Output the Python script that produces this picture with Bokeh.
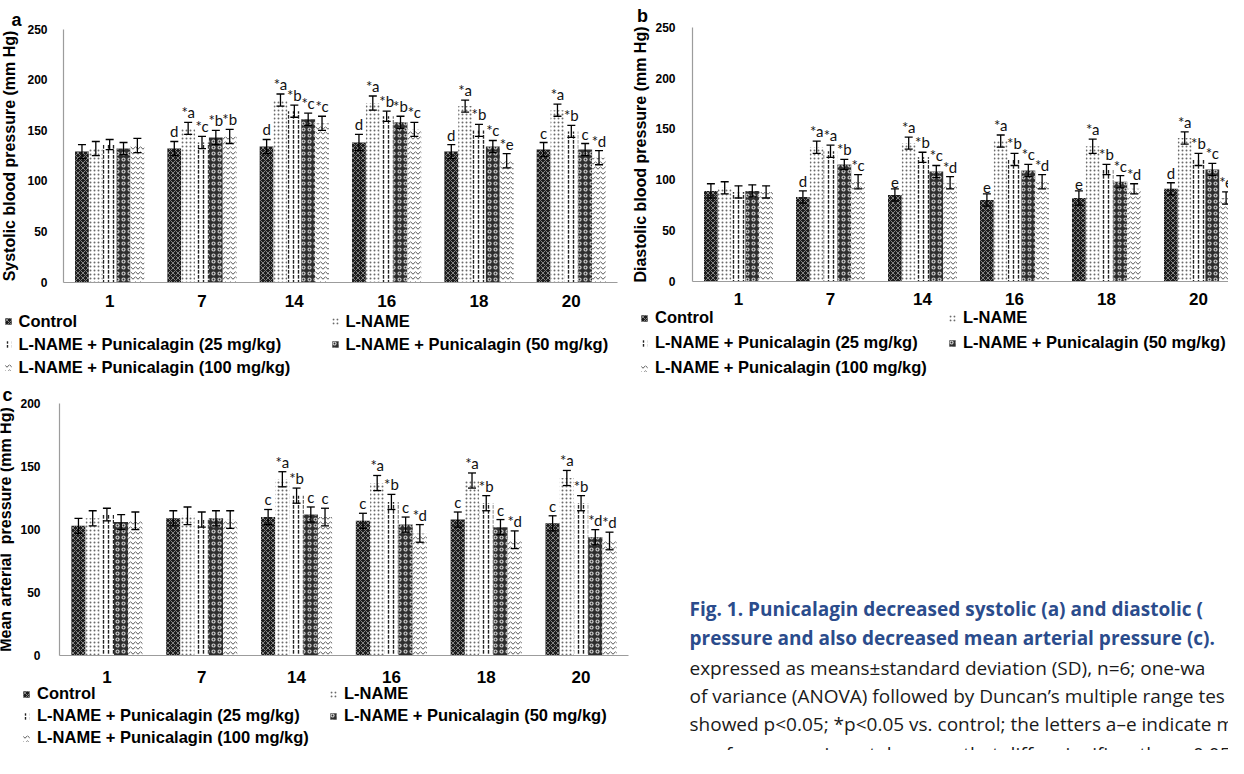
import numpy as np
from bokeh.plotting import figure
from bokeh.models import (ColumnDataSource, Range1d, FixedTicker, Whisker, TeeHead,
                          Legend, LegendItem, LinearAxis)
from bokeh.embed import file_html
from bokeh.resources import INLINE
from bokeh.core.properties import value

# ---------------- data ----------------
days = ["1", "7", "14", "16", "18", "20"]
series = ["Control", "L-NAME", "L-NAME + Punicalagin (25 mg/kg)",
          "L-NAME + Punicalagin (50 mg/kg)", "L-NAME + Punicalagin (100 mg/kg)"]

# (a) systolic blood pressure (mm Hg)
sbp_control = [129, 132, 134, 138, 129, 131]
sbp_lname = [132, 152, 180, 177, 174, 170]
sbp_p25 = [136, 138, 169, 164, 150, 149]
sbp_p50 = [132, 143, 161, 158, 134, 131]
sbp_p100 = [135, 144, 157, 151, 120, 123]
sbp_sd_control = [7, 7, 7, 8, 7, 7]
sbp_sd_lname = [7, 6, 6, 7, 6, 6]
sbp_sd_p25 = [5, 6, 6, 5, 6, 6]
sbp_sd_p50 = [6, 7, 6, 6, 6, 6]
sbp_sd_p100 = [7, 7, 7, 7, 7, 7]
sbp_lab_control = ["", "d", "d", "d", "d", "c"]
sbp_lab_lname = ["", "*a", "*a", "*a", "*a", "*a"]
sbp_lab_p25 = ["", "*c", "*b", "*b", "*b", "*b"]
sbp_lab_p50 = ["", "*b", "*c", "*b", "*c", "c"]
sbp_lab_p100 = ["", "*b", "*c", "*c", "*e", "*d"]

# (b) diastolic blood pressure (mm Hg)
dbp_control = [89, 83, 85, 80, 82, 91]
dbp_lname = [92, 132, 136, 138, 133, 141]
dbp_p25 = [88, 128, 122, 120, 110, 120]
dbp_p50 = [89, 115, 108, 109, 98, 110]
dbp_p100 = [88, 98, 97, 98, 91, 82]
dbp_sd_control = [7, 6, 6, 6, 7, 6]
dbp_sd_lname = [6, 6, 6, 6, 7, 6]
dbp_sd_p25 = [6, 6, 5, 6, 5, 6]
dbp_sd_p50 = [6, 5, 6, 6, 6, 6]
dbp_sd_p100 = [6, 7, 6, 7, 5, 6]
dbp_lab_control = ["", "d", "e", "e", "e", "d"]
dbp_lab_lname = ["", "*a", "*a", "*a", "*a", "*a"]
dbp_lab_p25 = ["", "*a", "*b", "*b", "*b", "*b"]
dbp_lab_p50 = ["", "*b", "*c", "*c", "*c", "*c"]
dbp_lab_p100 = ["", "*c", "*d", "*d", "*d", "*e"]

# (c) mean arterial pressure (mm Hg)
map_control = [103, 109, 110, 107, 108, 105]
map_lname = [109, 111, 140, 137, 139, 141]
map_p25 = [112, 108, 127, 122, 121, 121]
map_p50 = [106, 109, 112, 104, 102, 94]
map_p100 = [107, 108, 110, 97, 92, 91]
map_sd_control = [6, 6, 6, 6, 6, 6]
map_sd_lname = [6, 7, 6, 6, 6, 6]
map_sd_p25 = [5, 6, 6, 6, 6, 6]
map_sd_p50 = [6, 6, 6, 6, 6, 6]
map_sd_p100 = [7, 7, 7, 7, 7, 7]
map_lab_control = ["", "", "c", "c", "c", "c"]
map_lab_lname = ["", "", "*a", "*a", "*a", "*a"]
map_lab_p25 = ["", "", "*b", "*b", "*b", "*b"]
map_lab_p50 = ["", "", "c", "c", "c", "*d"]
map_lab_p100 = ["", "", "c", "*d", "*d", "*d"]

caption_blue = ["Fig. 1. Punicalagin decreased systolic (a) and diastolic (",
                "pressure and also decreased mean arterial pressure (c)."]
caption_black = ["expressed as means\u00b1standard deviation (SD), n=6; one-wa",
                 "of variance (ANOVA) followed by Duncan\u2019s multiple range tes",
                 "showed p<0.05; *p<0.05 vs. control; the letters a\u2013e indicate m",
                 "ues from experimental groups that differ significantly, p<0.05"]

# ---------------- styles / layout constants ----------------
W, H = 1228, 750          # canvas, placed at page (8, 8)
OFFSETS = [-0.3, -0.15, 0.0, 0.15, 0.3]
BAR_W = 0.15
STYLES = [
    dict(fill_color="#1c1c1c", hatch_pattern="x", hatch_color="#9a9a9a", hatch_scale=5, hatch_weight=0.8),
    dict(fill_color="white", hatch_pattern=".", hatch_color="#6a6a6a", hatch_scale=4, hatch_weight=1.0),
    dict(fill_color="white", hatch_pattern=":", hatch_color="#222222", hatch_scale=5, hatch_weight=1.4),
    dict(fill_color="#2e2e2e", hatch_pattern="o", hatch_color="#cfcfcf", hatch_scale=6, hatch_weight=1.2),
    dict(fill_color="white", hatch_pattern="v", hatch_color="#555555", hatch_scale=5, hatch_weight=1.0),
]
FONT = "Liberation Sans"

p = figure(width=W, height=H, x_range=Range1d(0, W), y_range=Range1d(0, H),
           output_backend="svg", toolbar_location=None, x_axis_type=None, y_axis_type=None,
           min_border_left=0, min_border_right=0, min_border_top=0, min_border_bottom=0,
           title=None)
p.outline_line_color = None


def x_scale_range(px0, ppu):
    # canvas spans page x 8..1236; group axis value 0.5 sits at page x px0
    return Range1d(0.5 + (8 - px0) / ppu, 0.5 + (8 + W - px0) / ppu)


def y_scale_range(py0, ppu):
    # canvas spans page y 8..758; value 0 sits at page y py0
    return Range1d((py0 - (8 + H)) / ppu, (py0 - 8) / ppu)


def panel(name, vals, sds, labs, ymax, ytitle, title_size, px0, xppu, py0, yppu,
          tick_so, title_so, x_so, leg_loc, leg_lw, leg_sp):
    xr, yr = "x" + name, "y" + name
    p.extra_x_ranges[xr] = x_scale_range(px0, xppu)
    p.extra_y_ranges[yr] = y_scale_range(py0, yppu)
    rends = []
    for k in range(5):
        xs = [i + 1 + OFFSETS[k] for i in range(len(days))]
        src = ColumnDataSource(dict(
            x=xs, top=vals[k],
            upper=[v + s for v, s in zip(vals[k], sds[k])],
            lower=[v - s for v, s in zip(vals[k], sds[k])],
            lab=labs[k]))
        r = p.vbar(x="x", top="top", width=BAR_W, source=src, line_color=None,
                   x_range_name=xr, y_range_name=yr, **STYLES[k])
        rends.append(r)
        p.add_layout(Whisker(source=src, base="x", upper="upper", lower="lower",
                             x_range_name=xr, y_range_name=yr,
                             line_color="black", line_width=1.3, level="overlay",
                             upper_head=TeeHead(size=8, line_width=1.3, line_color="black"),
                             lower_head=TeeHead(size=8, line_width=1.3, line_color="black")))
        p.text(x="x", y="upper", text="lab", source=src, x_range_name=xr, y_range_name=yr,
               text_align="center", text_baseline="bottom", y_offset=-1,
               text_font=value("Lato"), text_font_size="15px", text_color="#111111")

    yax = LinearAxis(x_range_name=xr, y_range_name=yr, fixed_location=0.5, bounds=(0, ymax),
                     ticker=FixedTicker(ticks=list(range(0, ymax + 1, 50))),
                     axis_label=ytitle)
    xax = LinearAxis(x_range_name=xr, y_range_name=yr, fixed_location=0, bounds=(0.5, 6.5),
                     ticker=FixedTicker(ticks=[i + 1 for i in range(len(days))]),
                     major_label_overrides={i + 1: d for i, d in enumerate(days)})
    for ax in (xax, yax):
        ax.axis_line_color = "#9c9c9c"
        ax.axis_line_width = 1.2
        ax.major_tick_line_color = None
        ax.minor_tick_line_color = None
        ax.major_label_text_font = FONT
        ax.major_label_text_font_style = "bold"
        ax.major_label_text_color = "black"
    yax.major_label_text_font_size = "12px"
    xax.major_label_text_font_size = "17px"
    yax.major_label_standoff = tick_so
    xax.major_label_standoff = x_so
    yax.axis_label_standoff = title_so
    yax.axis_label_text_font = FONT
    yax.axis_label_text_font_style = "bold"
    yax.axis_label_text_font_size = title_size
    yax.axis_label_text_color = "black"
    p.add_layout(yax, "left")
    p.add_layout(xax, "below")

    items = [LegendItem(label=s, renderers=[r]) for s, r in zip(series, rends)]
    p.add_layout(Legend(items=items, location=leg_loc, orientation="horizontal", ncols=2,
                        glyph_width=8, glyph_height=8, label_standoff=7,
                        label_width=leg_lw, label_height=19, spacing=leg_sp,
                        padding=0, margin=0, border_line_color=None, background_fill_alpha=0,
                        label_text_font=FONT, label_text_font_style="bold",
                        label_text_font_size="16.5px", label_text_color="black"))


panel("a", [sbp_control, sbp_lname, sbp_p25, sbp_p50, sbp_p100],
      [sbp_sd_control, sbp_sd_lname, sbp_sd_p25, sbp_sd_p50, sbp_sd_p100],
      [sbp_lab_control, sbp_lab_lname, sbp_lab_p25, sbp_lab_p50, sbp_lab_p100],
      250, "Systolic blood pressure (mm Hg)", "16px",
      71, 92.33, 289.5, 1.0108, 10, 6, 7, (3.5, 373.3), 308, 4)

panel("b", [dbp_control, dbp_lname, dbp_p25, dbp_p50, dbp_p100],
      [dbp_sd_control, dbp_sd_lname, dbp_sd_p25, dbp_sd_p50, dbp_sd_p100],
      [dbp_lab_control, dbp_lab_lname, dbp_lab_p25, dbp_lab_p50, dbp_lab_p100],
      250, "Diastolic blood pressure (mm Hg)", "16px",
      700, 92.0, 288.8, 1.016, 11, 3, 6, (640, 373), 287, 6)

panel("c", [map_control, map_lname, map_p25, map_p50, map_p100],
      [map_sd_control, map_sd_lname, map_sd_p25, map_sd_p50, map_sd_p100],
      [map_lab_control, map_lab_lname, map_lab_p25, map_lab_p50, map_lab_p100],
      200, "Mean arterial\u00a0 pressure (mm Hg)", "16px",
      67, 94.83, 663.1, 1.2595, 13, 3, 9, (22, 3), 289, 3)

# panel letters (canvas pixel coordinates)
p.text(x=[16, 642, 7], y=[731, 734.3, 355.1], text=["a", "b", "c"],
       text_font=value(FONT), text_font_style="bold", text_font_size="18px",
       text_align="center", text_baseline="alphabetic", text_color="black")

# caption
cap_x = 689
cap_y = [141.8, 112.3, 82.9, 54.4, 26.5, -3]
p.text(x=[cap_x] * 2, y=cap_y[:2], text=caption_blue, text_font=value("Open Sans"),
       text_font_style="bold", text_font_size="19px", text_color="#2b4c8c",
       text_baseline="alphabetic", text_align="left")
p.text(x=[cap_x] * 4, y=cap_y[2:], text=caption_black, text_font=value("Open Sans"),
       text_font_size="19px", text_color="#1a1a1a",
       text_baseline="alphabetic", text_align="left")

open("out.html", "w").write(file_html(p, INLINE))
